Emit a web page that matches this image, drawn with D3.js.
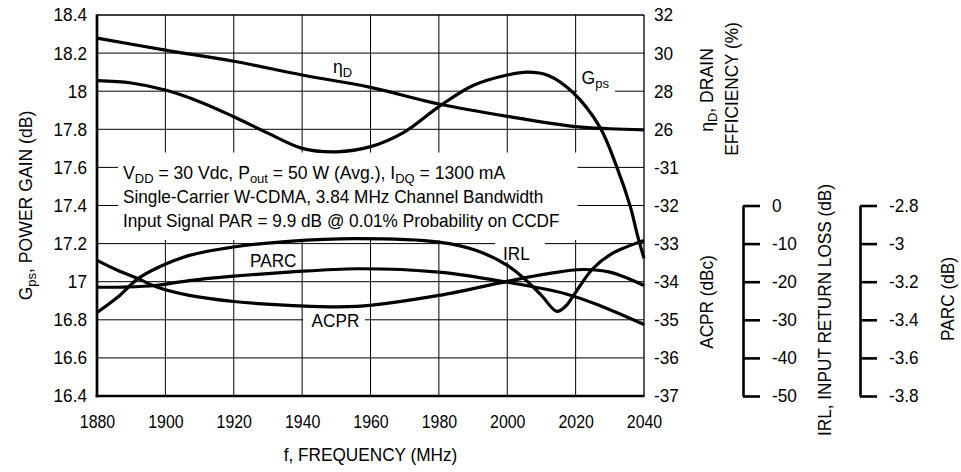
<!DOCTYPE html>
<html><head><meta charset="utf-8">
<script src="https://cdn.jsdelivr.net/npm/d3@7"></script>
<style>
body{margin:0;background:#fff}
svg text{font-family:"Liberation Sans",Arial,sans-serif;fill:#000}
</style>
</head><body>
<svg id="chart" width="961" height="472"></svg>
<script>
// ---------- data ----------
const freqTicks = [1880,1900,1920,1940,1960,1980,2000,2020,2040];
const gpsTicks = [16.4,16.6,16.8,17,17.2,17.4,17.6,17.8,18,18.2,18.4];
const gpsTickLabels = ["16.4","16.6","16.8","17","17.2","17.4","17.6","17.8","18","18.2","18.4"];
const rightTickLabels = ["-37","-36","-35","-34","-33","-32","-31","26","28","30","32"];
const irlTicks = [0,-10,-20,-30,-40,-50];
const irlTickLabels = ["0","-10","-20","-30","-40","-50"];
const parcTicks = [-2.8,-3,-3.2,-3.4,-3.6,-3.8];
const parcTickLabels = ["-2.8","-3","-3.2","-3.4","-3.6","-3.8"];

const gpsFreq = [1880,1890,1900,1910,1920,1930,1940,1950,1960,1970,1980,1990,2000,2006,2012,2019,2027,2032,2036,2038,2040];
const gpsVal  = [18.055,18.043,18.006,17.945,17.866,17.78,17.70,17.682,17.709,17.787,17.919,18.03,18.085,18.10,18.083,17.997,17.814,17.604,17.394,17.25,17.123];

const effFreq = [1880,1900,1920,1940,1960,1980,2000,2020,2030,2040];
const effVal  = [30.79,30.16,29.57,28.85,28.2,27.33,26.68,26.14,26.03,25.97];

const irlFreq = [1880,1886,1892,1898,1907,1920,1936,1956,1980,1991,2000,2005,2010,2014.5,2017,2020,2025,2030.5,2040];
const irlVal  = [-28.1,-24.1,-19.2,-16.2,-13.1,-10.9,-9.4,-8.7,-9.6,-11.8,-15.7,-19.2,-23.6,-27.8,-26.5,-22.8,-16.6,-12.7,-9.2];

const parcFreq = [1880,1888,1897,1907,1920,1936,1956,1980,2000,2017,2027,2040];
const parcVal  = [-3.229,-3.228,-3.220,-3.194,-3.171,-3.150,-3.132,-3.150,-3.203,-3.263,-3.325,-3.425];

const acprFreq = [1880,1886,1892,1897.5,1907,1920,1936,1956,1980,2000,2012,2022,2030,2040];
const acprVal  = [-33.44,-33.70,-33.92,-34.14,-34.36,-34.52,-34.62,-34.65,-34.36,-33.99,-33.79,-33.68,-33.75,-34.10];

// ---------- scales ----------
const FS = 18.5;      // size of single-run texts (condensed afterwards)
const FS2 = 17.6;     // size of texts with sub/superscripts (not condensed)
const svg = d3.select("#chart");
const x = d3.scaleLinear().domain([1880,2040]).range([97,644]);
const y = d3.scaleLinear().domain([16.4,18.4]).range([396,15]);
const yEff = d3.scaleLinear().domain([26,32]).range([y(17.8),y(18.4)]);
const yAcpr = d3.scaleLinear().domain([-37,-31]).range([y(16.4),y(17.6)]);
const yIrl = d3.scaleLinear().domain([-50,0]).range([y(16.4),y(17.4)]);
const yParc = d3.scaleLinear().domain([-3.8,-2.8]).range([y(16.4),y(17.4)]);

// ---------- grid ----------
const grid = svg.append("g").attr("stroke","#000").attr("stroke-width",1);
grid.selectAll("line.v").data(freqTicks.slice(1,-1)).join("line")
  .attr("x1",d=>x(d)).attr("x2",d=>x(d)).attr("y1",y(18.4)).attr("y2",y(16.4));
grid.selectAll("line.h").data(gpsTicks.slice(1,-1)).join("line")
  .attr("x1",x(1880)).attr("x2",x(2040)).attr("y1",d=>y(d)).attr("y2",d=>y(d));

// white boxes that break the grid behind labels
const boxes = [
  [118,152.5,577.5,240],   // annotation
  [495,236,545,262],       // IRL
  [303,312,365,331],       // ACPR
  [577,64,615,95]          // Gps
];
svg.append("g").selectAll("rect").data(boxes).join("rect")
  .attr("x",d=>d[0]).attr("y",d=>d[1]).attr("width",d=>d[2]-d[0]).attr("height",d=>d[3]-d[1])
  .attr("fill","#fff");

// ---------- curves ----------
const curve = d3.curveCatmullRom.alpha(0.5);
function drawSeries(fr, vals, ys){
  const pts = fr.map((f,i)=>[f,vals[i]]);
  svg.append("path").datum(pts)
    .attr("fill","none").attr("stroke","#000").attr("stroke-width",3.2)
    .attr("stroke-linejoin","round").attr("stroke-linecap","butt")
    .attr("d", d3.line().x(d=>x(d[0])).y(d=>ys(d[1])).curve(curve));
}
drawSeries(gpsFreq,gpsVal,y);
drawSeries(effFreq,effVal,yEff);
drawSeries(irlFreq,irlVal,yIrl);
drawSeries(parcFreq,parcVal,yParc);
drawSeries(acprFreq,acprVal,yAcpr);

// ---------- frame ----------
const fr = svg.append("g").attr("stroke","#000").attr("fill","none");
fr.append("line").attr("x1",x(1880)).attr("x2",x(2040)).attr("y1",y(18.4)).attr("y2",y(18.4)).attr("stroke-width",1.3);
fr.append("line").attr("x1",x(2040)).attr("x2",x(2040)).attr("y1",y(18.4)).attr("y2",y(16.4)).attr("stroke-width",1.3);
fr.append("line").attr("x1",x(1880)).attr("x2",x(1880)).attr("y1",y(18.4)-0.6).attr("y2",y(16.4)+1.3).attr("stroke-width",2.7);
fr.append("line").attr("x1",x(1880)-1.3).attr("x2",x(2040)+0.6).attr("y1",y(16.4)).attr("y2",y(16.4)).attr("stroke-width",2.6);

// ---------- axes ----------
function styleAxis(g){
  g.attr("font-family",null).attr("font-size",null);
  g.selectAll("text").attr("font-size",FS).classed("cond",true);
}
const axL = svg.append("g").attr("transform",`translate(${x(1880)},0)`)
  .call(d3.axisLeft(y).tickValues(gpsTicks).tickFormat((d,i)=>gpsTickLabels[i]).tickSize(0).tickPadding(10));
axL.select(".domain").remove(); styleAxis(axL);

const axB = svg.append("g").attr("transform",`translate(0,${y(16.4)})`)
  .call(d3.axisBottom(x).tickValues(freqTicks).tickFormat(d3.format("d")).tickSize(0).tickPadding(19));
axB.select(".domain").remove(); styleAxis(axB);
axB.selectAll("text").classed("cond",false).classed("condx",true);

const axR = svg.append("g").attr("transform",`translate(${x(2040)},0)`)
  .call(d3.axisRight(y).tickValues(gpsTicks).tickFormat((d,i)=>rightTickLabels[i]).tickSize(0).tickPadding(10));
axR.select(".domain").remove(); styleAxis(axR);

const axI = svg.append("g").attr("transform","translate(743,0)")
  .call(d3.axisRight(yIrl).tickValues(irlTicks).tickFormat((d,i)=>irlTickLabels[i]).tickSize(17).tickSizeOuter(0).tickPadding(12));
axI.selectAll("path,line").attr("stroke-width",2.6);
styleAxis(axI);

const axP = svg.append("g").attr("transform","translate(860,0)")
  .call(d3.axisRight(yParc).tickValues(parcTicks).tickFormat((d,i)=>parcTickLabels[i]).tickSize(17).tickSizeOuter(0).tickPadding(12));
axP.selectAll("path,line").attr("stroke-width",2.6);
styleAxis(axP);

// ---------- text helpers ----------
function addParts(t, parts, base){
  parts.forEach(p=>{
    if(typeof p === "string"){ t.append("tspan").text(p); }
    else { t.append("tspan").attr("font-size",p.fs||Math.round(base*0.72)).attr("dy",p.dy).text(p.t); }
  });
}
function rotTitle(xb, yc, parts){
  const multi = parts.length > 1;
  const fs = multi ? FS2 : FS;
  const t = svg.append("text")
    .attr("transform",`translate(${xb},${yc}) rotate(-90)`)
    .attr("text-anchor","middle").attr("font-size",fs).classed("cond",!multi);
  addParts(t, parts, fs);
  return t;
}
function plain(xx, yy, parts, anchor){
  const multi = parts.length > 1;
  const fs = multi ? FS2 : FS;
  const t = svg.append("text").attr("x",xx).attr("y",yy).attr("font-size",fs)
    .attr("text-anchor",anchor||"start").classed("cond",!multi);
  addParts(t, parts, fs);
  return t;
}

// ---------- titles ----------
rotTitle(32, 205.5, ["G",{t:"ps",dy:4},{t:", POWER GAIN (dB)",dy:-4,fs:FS2}]);
rotTitle(713, 90, ["\u03B7",{t:"D",dy:4},{t:", DRAIN",dy:-4,fs:FS2}]);
rotTitle(737.5, 89, ["EFFICIENCY (%)"]);
rotTitle(713, 302, ["ACPR (dBc)"]);
rotTitle(831, 310, ["IRL, INPUT RETURN LOSS (dB)"]);
rotTitle(953.5, 299, ["PARC (dB)"]);
plain((x(1880)+x(2040))/2, 461, ["f, FREQUENCY (MHz)"], "middle");

// annotation
plain(123, 178.5, ["V",{t:"DD",dy:4},{t:" = 30 Vdc, P",dy:-4,fs:FS2},{t:"out",dy:4},{t:" = 50 W (Avg.), I",dy:-4,fs:FS2},{t:"DQ",dy:4},{t:" = 1300 mA",dy:-4,fs:FS2}]);
plain(123, 203, ["Single-Carrier W-CDMA, 3.84 MHz Channel Bandwidth"]);
plain(123, 227, ["Input Signal PAR = 9.9 dB @ 0.01% Probability on CCDF"]);

// curve labels
plain(333, 73, ["\u03B7",{t:"D",dy:3.5}]);
plain(581.5, 83.5, ["G",{t:"ps",dy:4}]);
plain(250, 266.7, ["PARC"]);
plain(311.5, 326.7, ["ACPR"]);
plain(503, 260, ["IRL"]);

// condense single-run texts slightly (narrow typeface look)
function condense(sel, f){
  sel.each(function(){
    const L = this.getComputedTextLength();
    this.setAttribute("textLength", (L*f).toFixed(2));
    this.setAttribute("lengthAdjust","spacingAndGlyphs");
  });
}
condense(svg.selectAll("text.cond"), 0.93);
condense(svg.selectAll("text.condx"), 0.86);
</script>
</body></html>
